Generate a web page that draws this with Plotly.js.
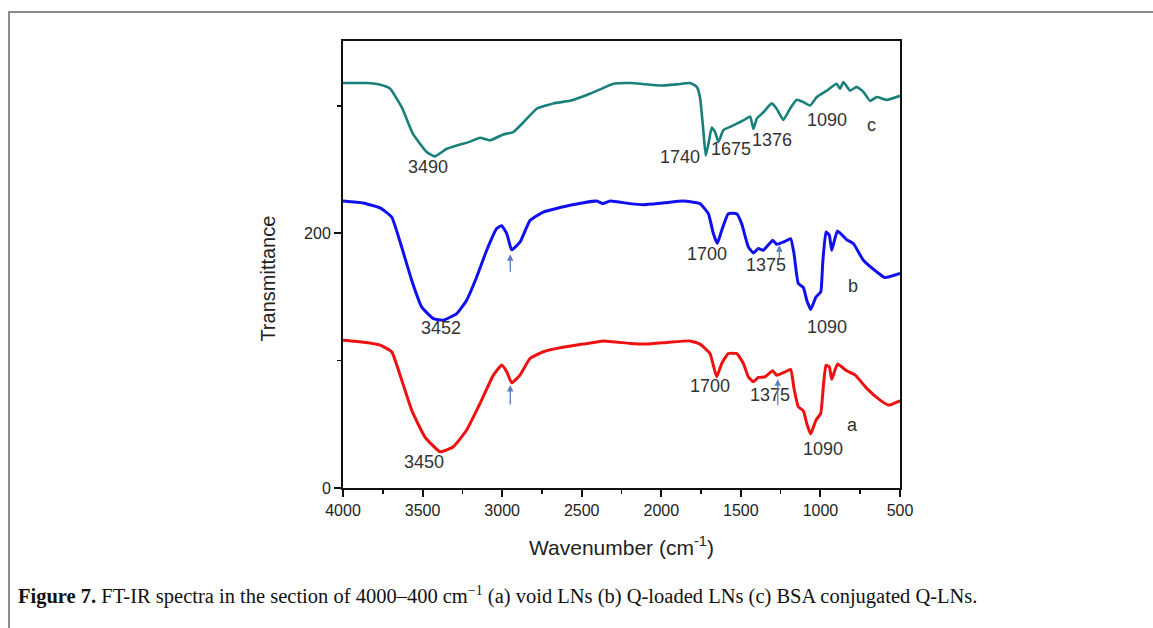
<!DOCTYPE html>
<html>
<head>
<meta charset="utf-8">
<script src="https://cdn.plot.ly/plotly-3.0.1.min.js"></script>
<style>
  html, body { margin: 0; padding: 0; background: #fff; overflow: hidden; }
  #frame { position: absolute; left: 8px; top: 11px; width: 1300px; height: 800px;
           border-top: 2px solid #8c8c8c; border-left: 2px solid #8c8c8c; }
  #chart { position: absolute; left: 0; top: 0; width: 1153px; height: 628px; }
  #caption { position: absolute; left: 18px; top: 584px; font-family: "Liberation Serif", serif;
             font-size: 20.5px; line-height: 24px; color: #111; white-space: nowrap; }
</style>
</head>
<body>
<div id="frame"></div>
<div id="chart"></div>
<div id="caption"><b>Figure 7.</b> FT-IR spectra in the section of 4000–400 cm<sup style="font-size:14px;line-height:0">−1</sup> (a) void LNs (b) Q-loaded LNs (c) BSA conjugated Q-LNs.</div>
<script>
// (c) BSA conjugated Q-LNs
const wnC = [4000,3850,3760,3705,3631,3560,3474,3422,3348,3285,3200,3139,3076,2993,2930,2867,2783,2678,2573,2480,2385,2300,2196,2100,2008,1900,1819,1777,1757,1736,1721,1704,1683,1662,1641,1610,1547,1484,1442,1421,1400,1359,1306,1275,1233,1191,1149,1107,1065,1023,960,898,877,856,814,772,730,688,646,583,500];
const tC  = [318,318,316.5,313.7,299,278,263.8,260.4,266.4,269,272,275,273,277.6,279.5,287,297.8,302,304,308,313,317.4,318,317,316,317,318,315,307,281,261,270,283,279.5,271.6,281,284.7,288.6,291.8,282,290,295,302,297.8,289,297.8,304.8,303,300.4,307,312,317.4,313.5,318.7,312,315,311,304,307,304.8,308];
// (b) Q-loaded LNs
const wnB = [4000,3874,3767,3694,3631,3568,3505,3432,3370,3285,3223,3160,3097,3034,3003,2971,2940,2888,2825,2741,2573,2406,2368,2322,2196,2113,1980,1861,1757,1704,1673,1648,1620,1579,1526,1495,1453,1421,1390,1359,1300,1275,1222,1187,1166,1139,1107,1086,1061,1028,998,986,965,944,929,893,835,793,730,646,594,500];
const tB  = [225.3,223.8,220,212.8,189,163,142,133,131.8,137,147.5,165.7,186.7,203.7,206,199.8,187,193,210,216.7,222,225.3,223.3,225.3,223.3,222.5,224,225.3,223.3,215.4,199.8,192,202.4,215.4,215.4,207.6,189.3,184.6,188,186.7,194.5,191.4,193.7,195.8,184,160.5,157.4,147.5,140.2,150,154,176,201,198.4,186.7,201.8,195,192,178.8,169.7,165.2,168.4];
// (a) void LNs
const wnA = [4000,3870,3767,3694,3631,3568,3485,3390,3307,3223,3139,3055,3003,2971,2940,2888,2825,2741,2620,2490,2364,2196,2092,1950,1819,1757,1694,1652,1620,1579,1526,1484,1453,1421,1390,1348,1300,1275,1222,1187,1166,1139,1107,1086,1061,1028,998,982,965,944,929,893,835,781,709,625,573,500];
const tA  = [116,114.5,112.2,107,84.7,61,40,28.5,32.4,45.5,66.4,88.6,96.5,91.2,82.6,88.6,101.7,107,110.5,113,115.5,113.5,113,114.5,115.5,113,105.6,87.3,97.8,105.6,105.6,97.8,87.3,83.4,86.8,87.3,92,88.6,91.2,93.1,78.2,63.8,60.6,50.7,42.4,53.3,58.6,79.5,96.5,95.1,85.3,97.3,92,88.6,78.2,69,65.1,68.5];

// peak labels
const labelText = ["3490","1740","1675","1376","1090","c","3452","1700","1375","b","1090","3450","1700","1375","a","1090"];
const labelX    = [3463,1882,1562,1306,957,682,3384,1711,1344,793,960,3491,1694,1317,797,982];
const labelY    = [251.8,259.6,266.4,273.5,289,285,125.7,183.5,175,158.4,126.5,20.6,80,73,49.4,30.4];

// arrows: head (x,y) and tail y
const arrowX     = [2949,1258,2949,1268];
const arrowHeadY = [183.5,190.6,80.8,85.3];
const arrowTailY = [168.6,178.8,64.3,63.8];

const xTicks = [4000,3500,3000,2500,2000,1500,1000,500];
const yTicks = [0,200];

const traces = [
  {x: wnC, y: tC, mode: 'lines', line: {color: '#18807a', width: 2.6, shape: 'spline', smoothing: 0.4}, name: 'c'},
  {x: wnB, y: tB, mode: 'lines', line: {color: '#1010ee', width: 3, shape: 'spline', smoothing: 0.4}, name: 'b'},
  {x: wnA, y: tA, mode: 'lines', line: {color: '#ee1111', width: 3, shape: 'spline', smoothing: 0.4}, name: 'a'}
];

const annotations = [];
for (let i = 0; i < labelText.length; i++) {
  annotations.push({x: labelX[i], y: labelY[i], xref: 'x', yref: 'y', text: labelText[i], showarrow: false,
    font: {family: 'Liberation Sans, Arial, sans-serif', size: 18, color: '#333'}});
}
for (let i = 0; i < arrowX.length; i++) {
  annotations.push({x: arrowX[i], y: arrowHeadY[i], ax: arrowX[i], ay: arrowTailY[i], axref: 'x', ayref: 'y',
    xref: 'x', yref: 'y', text: '', showarrow: true, arrowhead: 2, arrowsize: 1, arrowwidth: 1.3, arrowcolor: '#5a7fc2'});
}
// y-axis title placed as a rotated annotation (reference sits slightly below the plot centre)
annotations.push({xref: 'paper', yref: 'paper', x: -0.135, y: 0.468, xanchor: 'center', yanchor: 'middle',
  text: 'Transmittance', textangle: -90,
  showarrow: false, font: {family: 'Liberation Sans, Arial, sans-serif', size: 20, color: '#222'}});

const layout = {
  width: 1153, height: 628,
  margin: {l: 343, r: 253, t: 41, b: 140},
  paper_bgcolor: 'rgba(0,0,0,0)', plot_bgcolor: '#fff',
  showlegend: false,
  font: {family: 'Liberation Sans, Arial, sans-serif', color: '#222'},
  xaxis: {
    range: [4000, 500], tickvals: xTicks, ticktext: xTicks.map(String),
    showgrid: false, zeroline: false, showline: true, linecolor: '#111', linewidth: 2, mirror: true,
    ticks: 'outside', ticklen: 7, tickwidth: 2, tickcolor: '#111',
    minor: {dtick: 250, tick0: 0, ticks: 'outside', ticklen: 4, tickwidth: 1.5, tickcolor: '#111', showgrid: false},
    tickfont: {size: 16, color: '#222'},
    title: {text: 'Wavenumber (cm<sup>-1</sup>)', font: {size: 21, color: '#222'}, standoff: 22}
  },
  yaxis: {
    range: [0, 351], tickvals: yTicks, ticktext: yTicks.map(String),
    showgrid: false, zeroline: false, showline: true, linecolor: '#111', linewidth: 2, mirror: true,
    ticks: 'outside', ticklen: 7, tickwidth: 2, tickcolor: '#111',
    minor: {dtick: 100, tick0: 0, ticks: 'outside', ticklen: 4, tickwidth: 1.5, tickcolor: '#111', showgrid: false},
    tickfont: {size: 16, color: '#222'}
  },
  annotations: annotations
};

Plotly.newPlot('chart', traces, layout, {displayModeBar: false, staticPlot: true});
</script>
</body>
</html>
